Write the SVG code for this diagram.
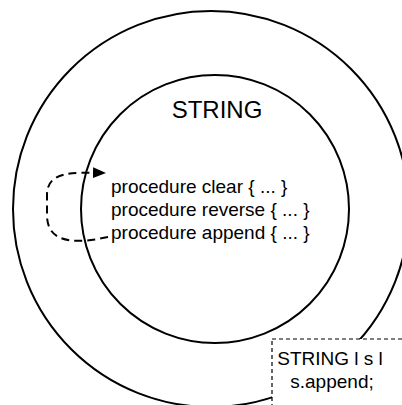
<svg xmlns="http://www.w3.org/2000/svg" width="402" height="405" viewBox="0 0 402 405">
  <style>
    text { font-family: "Liberation Sans", Arial, sans-serif; fill: #000; }
    .ring { fill: none; stroke: #000; stroke-width: 2; }
    .proc { font-size: 19px; }
    .note { font-size: 19px; text-anchor: middle; }
    .title { font-size: 24px; text-anchor: middle; }
    .loop { fill: none; stroke: #000; stroke-width: 2; stroke-dasharray: 8 5; }
    .box { fill: #fff; stroke: #000; stroke-width: 1.2; stroke-dasharray: 4 3; }
  </style>
  <defs>
    <marker id="arrow" viewBox="0 0 13 11" refX="12" refY="5.5" markerWidth="13" markerHeight="11" markerUnits="userSpaceOnUse" orient="auto">
      <path d="M0,0 L13,5.5 L0,11 z" fill="#000"/>
    </marker>
  </defs>

  <!-- outer system boundary -->
  <g id="system">
    <circle class="ring" cx="211" cy="209" r="198"/>
  </g>

  <!-- the STRING class -->
  <g id="string-class">
    <circle class="ring" cx="215" cy="209" r="134"/>
    <text class="title" x="217" y="118">STRING</text>
  </g>

  <!-- its procedures -->
  <g id="procedures">
    <text class="proc" x="111" y="193">procedure clear { ... }</text>
    <text class="proc" x="111" y="216">procedure reverse { ... }</text>
    <text class="proc" x="111" y="239">procedure append { ... }</text>
  </g>

  <!-- call from append back into clear -->
  <g id="connectors">
    <path class="loop" d="M108,237 C80,243 47,246 47,215 L47,195 C47,172 70,172 105,173" marker-end="url(#arrow)"/>
  </g>

  <!-- client code -->
  <g id="client">
    <rect class="box" x="272" y="339" width="140" height="80"/>
    <text class="note" x="330" y="365">STRING l s l</text>
    <text class="note" x="332" y="388">s.append;</text>
  </g>
</svg>
